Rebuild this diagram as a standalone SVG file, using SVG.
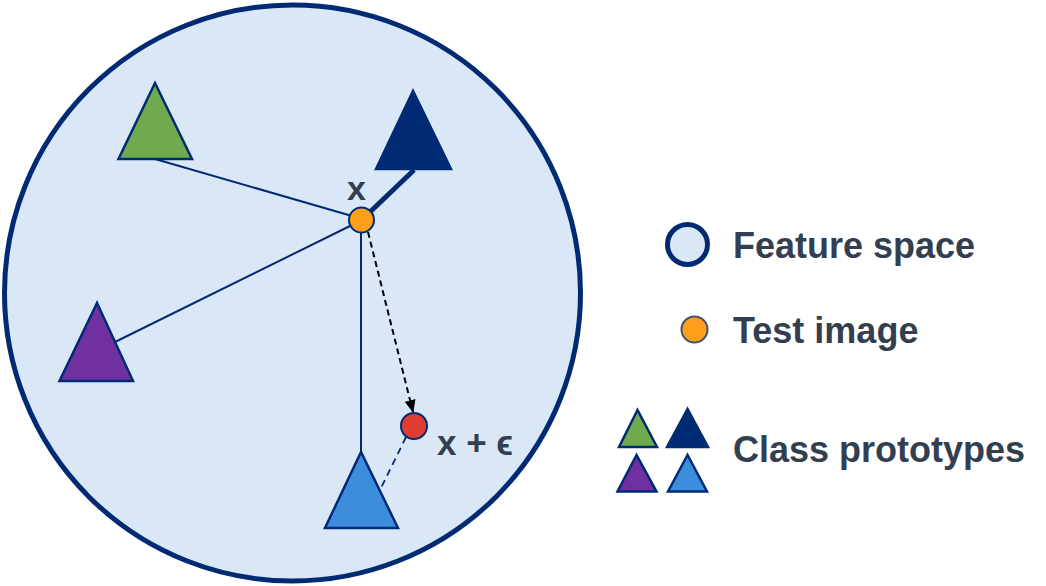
<svg xmlns="http://www.w3.org/2000/svg" width="1046" height="586" viewBox="0 0 1046 586">
<defs>
<style>
.lbl{font-family:"Liberation Sans",Arial,sans-serif;font-weight:bold;fill:#333f50;font-size:36px}
.tri{stroke:#002b73;stroke-width:2.5;stroke-linejoin:miter}
.edge{stroke:#002b73;stroke-width:2;fill:none}
</style>
<marker id="arr" markerWidth="13" markerHeight="11" refX="12" refY="5.5" orient="auto" markerUnits="userSpaceOnUse">
<path d="M0,0 L13,5.5 L0,11 Z" fill="#000"/>
</marker>
</defs>
<rect width="1046" height="586" fill="#fff"/>
<g id="feature-space">
<circle cx="292.5" cy="293" r="288" fill="#dae7f7" stroke="#002b73" stroke-width="5"/>
</g>
<g id="connectors">
<line class="edge" x1="155" y1="159" x2="352" y2="216"/>
<line x1="370" y1="212" x2="414" y2="170" stroke="#002b73" stroke-width="5"/>
<line class="edge" x1="115" y1="342" x2="350" y2="226"/>
<line class="edge" x1="361" y1="233" x2="361" y2="452"/>
<line x1="368" y1="232" x2="413" y2="412" stroke="#000" stroke-width="2" stroke-dasharray="6,4" marker-end="url(#arr)"/>
<line x1="406" y1="437" x2="380" y2="490" stroke="#002b73" stroke-width="1.8" stroke-dasharray="7,5"/>
</g>
<g id="proto-green"><polygon class="tri" points="155,83 118.5,159 192,159" fill="#70aa4e"/></g>
<g id="proto-navy"><polygon class="tri" points="413,91 376,169 451,169" fill="#002b73"/></g>
<g id="proto-purple"><polygon class="tri" points="97,303 59.5,381 133,381" fill="#7030a0"/></g>
<g id="proto-blue"><polygon class="tri" points="361,452 325,528 398,528" fill="#3d8ddd"/></g>
<g id="test-image">
<circle cx="361.5" cy="220" r="12.5" fill="#ff9e1b" stroke="#002b73" stroke-width="2"/>
<text class="lbl" x="347" y="200" style="font-size:34px">x</text>
</g>
<g id="perturbed">
<circle cx="414" cy="426" r="13" fill="#e03c31" stroke="#002b73" stroke-width="2"/>
<text class="lbl" x="437" y="455" style="font-size:35px">x + ϵ</text>
</g>
<g id="legend">
<circle cx="687.5" cy="244.5" r="20" fill="#dae7f7" stroke="#002b73" stroke-width="5"/>
<text class="lbl" x="733" y="258">Feature space</text>
<circle cx="694.5" cy="329.5" r="13" fill="#ff9e1b" stroke="#44546a" stroke-width="2"/>
<text class="lbl" x="733" y="343">Test image</text>
<polygon class="tri" points="637.5,410 619,447 657,447" fill="#70aa4e"/>
<polygon class="tri" points="687.5,409 667,447 708,447" fill="#002b73"/>
<polygon class="tri" points="636.5,455 617.5,491.5 656.5,491.5" fill="#7030a0"/>
<polygon class="tri" points="687.5,455 668,491.5 707,491.5" fill="#3d8ddd"/>
<text class="lbl" x="733" y="462">Class prototypes</text>
</g>
</svg>
